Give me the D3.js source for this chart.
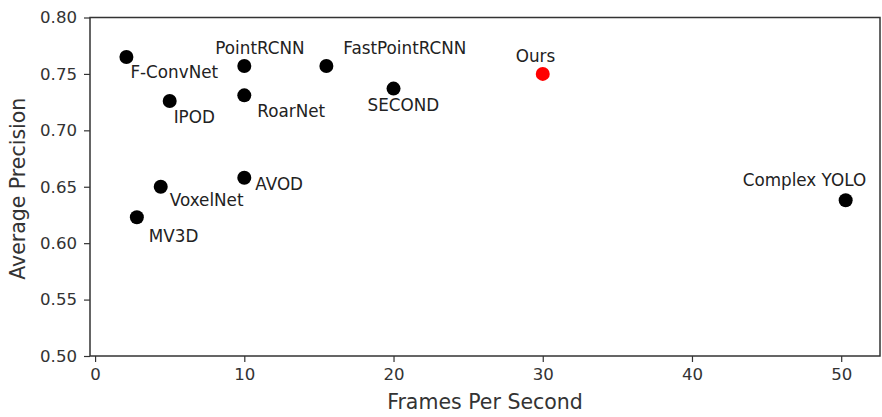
<!DOCTYPE html>
<html>
<head>
<meta charset="utf-8">
<script src="https://cdn.jsdelivr.net/npm/d3@7"></script>
<style>
  html, body { margin: 0; padding: 0; background: #fff; }
  svg { display: block; font-family: "DejaVu Sans", sans-serif; }
</style>
</head>
<body>
<svg id="chart" width="882" height="417"></svg>
<script>
// ---- data ----
const methods = ["F-ConvNet", "PointRCNN", "FastPointRCNN", "SECOND", "Ours", "IPOD", "RoarNet", "AVOD", "VoxelNet", "MV3D", "Complex YOLO"];
const fps = [2.1, 10, 15.5, 20, 30, 5.0, 10, 10, 4.4, 2.8, 50.3];
const precision = [0.765, 0.757, 0.757, 0.737, 0.750, 0.726, 0.731, 0.658, 0.650, 0.623, 0.638];
const xTicks = [0, 10, 20, 30, 40, 50];
const yTicks = [0.50, 0.55, 0.60, 0.65, 0.70, 0.75, 0.80];

// ---- annotation offsets (px, from point centre to text start/baseline) ----
const labelDx = [4, -29, 17, -26, -27, 4, 13, 11, 9, 12, -103];
const labelDy = [21, -12, -12, 22, -12, 22, 22, 12, 19, 25, -14];

const W = 882, H = 417;
const margin = { left: 90, right: 2, top: 17.5, bottom: 61 };
const svg = d3.select("#chart");

const x = d3.scaleLinear().domain([-0.34, 52.6]).range([margin.left, W - margin.right]);
const y = d3.scaleLinear().domain([0.5, 0.8]).range([H - margin.bottom, margin.top]);

const axisColor = "#333";
const textColor = "#333";

// x axis
const gx = svg.append("g")
  .attr("transform", `translate(0,${H - margin.bottom})`)
  .call(d3.axisBottom(x).tickValues(xTicks).tickFormat(d3.format("d")).tickSizeOuter(0).tickSize(6).tickPadding(6));
// y axis
const gy = svg.append("g")
  .attr("transform", `translate(${margin.left},0)`)
  .call(d3.axisLeft(y).tickValues(yTicks).tickFormat(d3.format(".2f")).tickSizeOuter(0).tickSize(6).tickPadding(7));

[gx, gy].forEach(g => {
  g.select(".domain").remove();
  g.selectAll(".tick line").attr("stroke", axisColor).attr("stroke-width", 1.2);
  g.selectAll(".tick text").attr("fill", textColor).style("font-size", "16.6px").style("font-family", "DejaVu Sans, sans-serif");
});

// frame
svg.append("rect")
  .attr("x", margin.left).attr("y", margin.top)
  .attr("width", W - margin.right - margin.left)
  .attr("height", H - margin.bottom - margin.top)
  .attr("fill", "none").attr("stroke", axisColor).attr("stroke-width", 1.5);

// points
const idx = d3.range(methods.length);
svg.append("g").selectAll("circle")
  .data(idx).join("circle")
  .attr("cx", i => x(fps[i]))
  .attr("cy", i => y(precision[i]))
  .attr("r", 7)
  .attr("fill", i => methods[i] === "Ours" ? "#ff0000" : "#000");

// labels
svg.append("g").selectAll("text")
  .data(idx).join("text")
  .attr("x", i => x(fps[i]) + labelDx[i])
  .attr("y", i => y(precision[i]) + labelDy[i])
  .attr("fill", "#222")
  .style("font-size", "16.8px")
  .text(i => methods[i]);

// axis titles
svg.append("text")
  .attr("x", (margin.left + W - margin.right) / 2 + 0)
  .attr("y", 409)
  .attr("text-anchor", "middle")
  .attr("fill", textColor)
  .style("font-size", "20.5px")
  .text("Frames Per Second");

svg.append("text")
  .attr("transform", `translate(25,${(margin.top + H - margin.bottom) / 2 + 2}) rotate(-90)`)
  .attr("text-anchor", "middle")
  .attr("fill", textColor)
  .style("font-size", "20.5px")
  .text("Average Precision");
</script>
</body>
</html>
